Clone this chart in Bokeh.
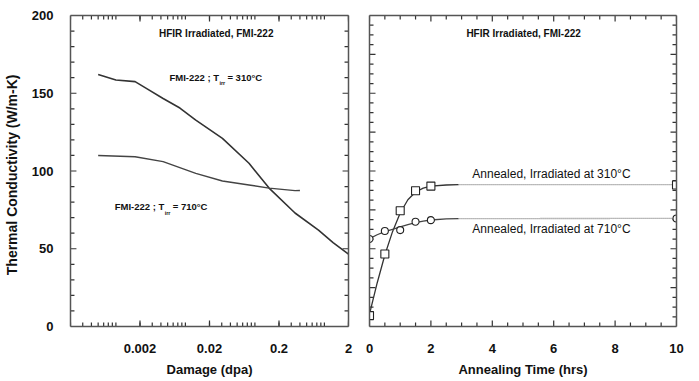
from bokeh.plotting import figure
from bokeh.layouts import row
from bokeh.models import FixedTicker, LinearAxis, LogAxis, Label, CustomJSTickFormatter
from bokeh.embed import file_html
from bokeh.resources import INLINE

# ---- data ----
dpa_310 = [0.0005, 0.0009, 0.0017, 0.0025, 0.0043, 0.0075, 0.0127, 0.0307, 0.074, 0.144, 0.34, 0.74, 1.2, 2.0]
k_310 = [162, 158.5, 157.5, 153, 146.6, 140.5, 132.7, 121, 105, 89, 73, 62, 54, 46.5]
dpa_710 = [0.0005, 0.0017, 0.0043, 0.0127, 0.0307, 0.074, 0.144, 0.34, 0.4]
k_710 = [110, 109.2, 106, 98.5, 93.6, 91, 89, 87.4, 87.5]

anneal_t = [0, 0.5, 1, 1.5, 2, 10]
anneal_310 = [7, 46.6, 74.4, 87.3, 90.3, 91]
anneal_710 = [56.3, 61.4, 62, 67.4, 68.4, 69.5]

fit_t = [0, 0.25, 0.5, 0.75, 1, 1.25, 1.5, 1.75, 2, 2.5, 2.9]
fit_310 = [8, 28, 46, 61, 73, 81.5, 86.5, 89, 90.3, 91, 91.2]
fit_710 = [56.5, 59, 61, 62.5, 64, 65.5, 66.8, 67.8, 68.5, 69.2, 69.4]
tail_t = [2.9, 10]
tail_310 = [91.2, 91.2]
tail_710 = [69.4, 69.5]

dpa_range = (0.0002, 2)
k_range = (0, 200)
t_range = (0, 10)

log_ticks = [0.002, 0.02, 0.2, 2]
log_minor = [m * 10.0 ** e for e in range(-4, 1) for m in range(2, 10)]
k_ticks_left = list(range(0, 201, 50))
k_minor_left = [v for v in range(0, 201, 10) if v % 50]
k_ticks_right = list(range(0, 201, 25))
k_minor_right = [i * 6.25 for i in range(0, 33) if i % 4]
t_ticks = list(range(0, 11, 2))
t_minor = [i * 0.5 for i in range(0, 21) if i % 4]

AX_COL = "#555555"
TICK_COL = "#333333"
TICK_FONT = "Liberation Sans"
FRAME_H = 311  # px, used only to turn tick lengths in pixels into data units
MAJ = 6
MIN = 4


def style_axis(ax, show_labels):
    ax.axis_line_color = AX_COL
    ax.axis_line_width = 1.5
    ax.major_tick_line_color = None
    ax.minor_tick_line_color = None
    ax.major_tick_in = 0
    ax.major_tick_out = 0
    ax.minor_tick_in = 0
    ax.minor_tick_out = 0
    if show_labels:
        ax.major_label_text_font = TICK_FONT
        ax.major_label_text_font_style = "bold"
        ax.major_label_text_font_size = "13px"
        ax.major_label_text_color = "#111111"
        ax.axis_label_text_font = TICK_FONT
        ax.axis_label_text_font_style = "bold"
        ax.axis_label_text_font_size = "13px"
        ax.axis_label_text_color = "#111111"
    else:
        ax.major_label_text_color = None
        ax.major_label_text_font_size = "2px"
        ax.major_label_standoff = 0


def ticks_x(p, xs, yr, frac):
    # vertical tick segments at the bottom and top edges
    span = yr[1] - yr[0]
    L = span * frac
    p.segment(xs, [yr[0]] * len(xs), xs, [yr[0] + L] * len(xs), line_color=TICK_COL, line_width=1.2)
    p.segment(xs, [yr[1]] * len(xs), xs, [yr[1] - L] * len(xs), line_color=TICK_COL, line_width=1.2)


def ticks_y(p, ys, x_lo, x_hi, x_lo_in, x_hi_in):
    n = len(ys)
    p.segment([x_lo] * n, ys, [x_lo_in] * n, ys, line_color=TICK_COL, line_width=1.2)
    p.segment([x_hi] * n, ys, [x_hi_in] * n, ys, line_color=TICK_COL, line_width=1.2)


fmt = CustomJSTickFormatter(code="return String(Number(tick.toPrecision(3)))")

# ---------------- left panel ----------------
p1 = figure(width=358, height=381, x_axis_type="log", x_range=dpa_range, y_range=k_range,
            output_backend="svg", toolbar_location=None,
            min_border_left=67, min_border_right=10, min_border_top=15, min_border_bottom=55)
p1.xgrid.visible = False
p1.ygrid.visible = False
p1.outline_line_color = None

xa = p1.xaxis[0]
xa.ticker = FixedTicker(ticks=log_ticks)
xa.formatter = fmt
xa.axis_label = "Damage (dpa)"
style_axis(xa, True)
xa.major_label_standoff = 17
xa.axis_label_standoff = 6

ya = p1.yaxis[0]
ya.ticker = FixedTicker(ticks=k_ticks_left)
ya.axis_label = "Thermal  Conductivity  (W/m-K)"
style_axis(ya, True)
ya.major_label_standoff = 17
ya.axis_label_standoff = 9
ya.axis_label_text_font_size = "14px"

top1 = LogAxis(ticker=FixedTicker(ticks=log_ticks))
style_axis(top1, False)
p1.add_layout(top1, "above")
right1 = LinearAxis(ticker=FixedTicker(ticks=k_ticks_left))
style_axis(right1, False)
p1.add_layout(right1, "right")

# tick marks (inside the frame)
dec_px = 281 / 4.0
ticks_x(p1, log_ticks, k_range, MAJ / FRAME_H)
ticks_x(p1, log_minor, k_range, MIN / FRAME_H)
ticks_y(p1, k_ticks_left, dpa_range[0], dpa_range[1],
        dpa_range[0] * 10 ** (MAJ / dec_px), dpa_range[1] / 10 ** (MAJ / dec_px))
ticks_y(p1, k_minor_left, dpa_range[0], dpa_range[1],
        dpa_range[0] * 10 ** (MIN / dec_px), dpa_range[1] / 10 ** (MIN / dec_px))

p1.line(dpa_310, k_310, line_color="#333333", line_width=1.6)
p1.line(dpa_710, k_710, line_color="#444444", line_width=1.4)

ann_font = dict(text_font=TICK_FONT, text_font_style="bold", text_color="#111111",
                text_baseline="middle")
p1.add_layout(Label(x=0.025, y=188.5, text="HFIR Irradiated, FMI-222", text_align="center",
                    text_font_size="10px", **ann_font))
for (lx, ly, temp) in [(0.0053, 160.4, "= 310°C"), (0.000865, 77.1, "= 710°C")]:
    p1.add_layout(Label(x=lx, y=ly, text="FMI-222 ; T", text_align="left",
                        text_font_size="9.5px", **ann_font))
    p1.add_layout(Label(x=lx, y=ly, x_offset=50, y_offset=-6, text="irr", text_align="left",
                        text_font_size="5.5px", **ann_font))
    p1.add_layout(Label(x=lx, y=ly, x_offset=58, text=temp, text_align="left",
                        text_font_size="9.5px", **ann_font))

# ---------------- right panel ----------------
p2 = figure(width=341, height=381, x_range=t_range, y_range=k_range,
            output_backend="svg", toolbar_location=None,
            min_border_left=11, min_border_right=23, min_border_top=15, min_border_bottom=55)
p2.xgrid.visible = False
p2.ygrid.visible = False
p2.outline_line_color = None

xb = p2.xaxis[0]
xb.ticker = FixedTicker(ticks=t_ticks)
xb.axis_label = "Annealing Time (hrs)"
style_axis(xb, True)
xb.major_label_standoff = 17
xb.axis_label_standoff = 6

yb = p2.yaxis[0]
yb.ticker = FixedTicker(ticks=k_ticks_right)
style_axis(yb, False)

top2 = LinearAxis(ticker=FixedTicker(ticks=t_ticks))
style_axis(top2, False)
p2.add_layout(top2, "above")
right2 = LinearAxis(ticker=FixedTicker(ticks=k_ticks_right))
style_axis(right2, False)
p2.add_layout(right2, "right")

t_px = (t_range[1] - t_range[0]) / 307.0
ticks_x(p2, t_ticks, k_range, MAJ / FRAME_H)
ticks_x(p2, t_minor, k_range, MIN / FRAME_H)
ticks_y(p2, k_ticks_right, t_range[0], t_range[1], t_range[0] + MAJ * t_px, t_range[1] - MAJ * t_px)
ticks_y(p2, k_minor_right, t_range[0], t_range[1], t_range[0] + MIN * t_px, t_range[1] - MIN * t_px)

p2.line(fit_t, fit_310, line_color="#333333", line_width=1.3)
p2.line(fit_t, fit_710, line_color="#444444", line_width=1.3)
p2.line(tail_t, tail_310, line_color="#777777", line_width=1.3, line_dash="1 1")
p2.line(tail_t, tail_710, line_color="#777777", line_width=1.3, line_dash="1 1")
p2.scatter(anneal_t, anneal_310, marker="square", size=8, line_color="#222222",
           fill_color="white", line_width=1.1)
p2.scatter(anneal_t, anneal_710, marker="circle", size=7, line_color="#222222",
           fill_color="white", line_width=1.1)

p2.add_layout(Label(x=5.02, y=188.5, text="HFIR Irradiated, FMI-222", text_align="center",
                    text_font_size="10px", **ann_font))
ann2 = dict(text_font=TICK_FONT, text_color="#111111", text_baseline="middle",
            text_font_size="12px", text_align="center")
p2.add_layout(Label(x=6.09, y=98, text="Annealed,  Irradiated  at  310°C", **ann2))
p2.add_layout(Label(x=6.09, y=62.8, text="Annealed,  Irradiated  at  710°C", **ann2))

layout = row(p1, p2)
open("out.html", "w").write(file_html(layout, INLINE))
